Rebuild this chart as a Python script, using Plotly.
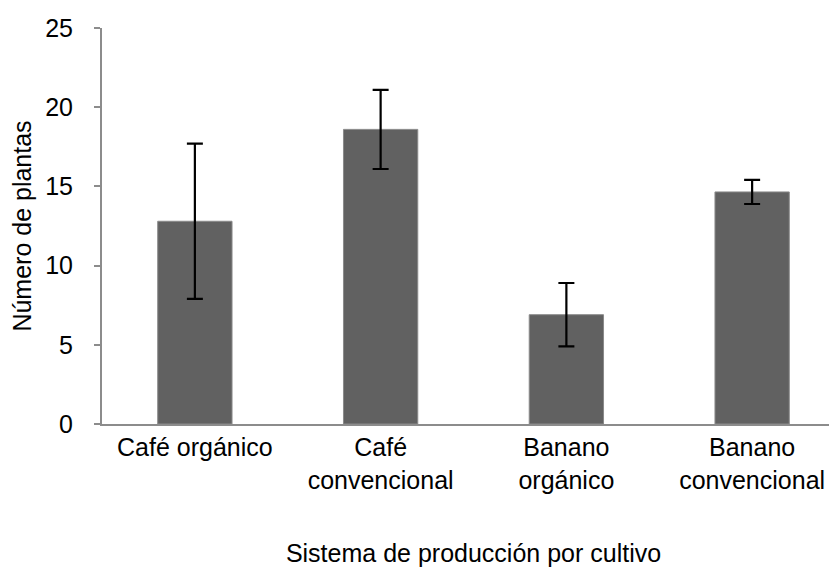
import plotly.graph_objects as go

categories = ["Café orgánico", "Café<br>convencional", "Banano<br>orgánico", "Banano<br>convencional"]
means = [12.8, 18.6, 6.9, 14.65]
errors = [4.9, 2.5, 2.0, 0.76]
y_ticks = [0, 5, 10, 15, 20, 25]

font = "Liberation Sans, Arial, sans-serif"
fs = 25

fig = go.Figure(go.Bar(
    x=list(range(len(categories))),
    y=means,
    width=0.4,
    marker=dict(color="#616161", line=dict(color="#8a8a8a", width=1)),
    error_y=dict(type="data", array=errors, visible=True, color="black", thickness=2.2, width=8),
))

fig.update_layout(
    width=837, height=569,
    margin=dict(l=94, r=0, t=20, b=153, autoexpand=False),
    paper_bgcolor="white", plot_bgcolor="white",
    showlegend=False,
    font=dict(family=font, size=fs, color="black"),
    xaxis=dict(
        range=[-0.5, 3.5], automargin=False,
        tickmode="array", tickvals=list(range(len(categories))), ticktext=categories,
        showline=True, linecolor="#8c8c8c", linewidth=2,
        ticks="", showgrid=False, zeroline=False,
        tickfont=dict(size=fs, family=font, color="black"),
        title=dict(text="Sistema de producción por cultivo", font=dict(size=fs, family=font), standoff=52),
    ),
    yaxis=dict(
        range=[0, 25], automargin=False,
        tickmode="array", tickvals=y_ticks,
        showline=True, linecolor="#8c8c8c", linewidth=2,
        ticks="outside", ticklen=6, tickcolor="#8c8c8c", tickwidth=2,
        ticklabelstandoff=16,
        showgrid=False, zeroline=False,
        tickfont=dict(size=fs, family=font, color="black"),
        title=dict(text="Número de plantas", font=dict(size=fs, family=font), standoff=25),
    ),
)

fig.write_html("out.html")
